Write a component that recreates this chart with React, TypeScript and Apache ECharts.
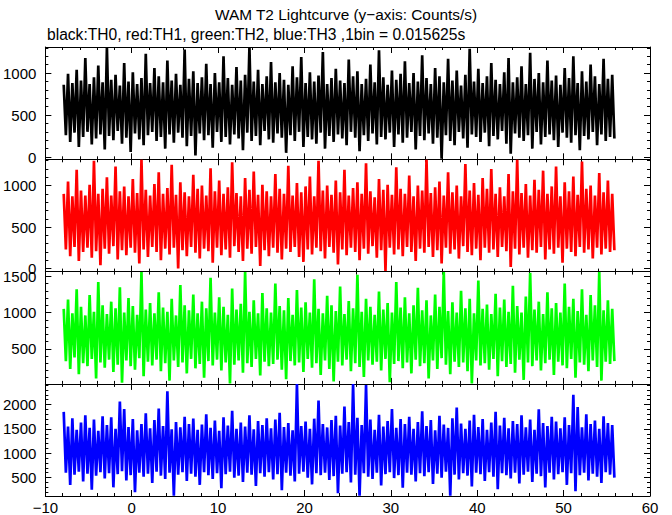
import React, { useEffect, useRef } from "react";
import * as echarts from "echarts";

// Time axis: bins start at -8 s; each listed value covers 0.25 s (alternating high / low excursions)
const T_START = -8;
const T_STEP = 0.25;

const TITLE = "WAM T2 Lightcurve (y\u2212axis: Counts/s)";
const SUBTITLE = "black:TH0, red:TH1, green:TH2, blue:TH3 ,1bin = 0.015625s";

const xTicks = [-10, 0, 10, 20, 30, 40, 50, 60];

const th0High = [
  860, 990, 880, 1040, 910, 1180, 870, 950, 1090, 890, 1300, 920, 980, 850, 1120, 900,
  1010, 870, 940, 1230, 880, 1060, 960, 890, 1150, 910, 990, 860, 1280, 930, 1020, 880,
  950, 1110, 870, 1000, 890, 1200, 940, 860, 1070, 910, 980, 1310, 900, 1040, 870, 960,
  1130, 890, 1000, 920, 860, 1080, 950, 1190, 880, 1010, 900, 970, 1250, 870, 940, 1050,
  910, 880, 1160, 960, 1020, 870, 930, 1100, 890, 1270, 950, 860, 1030, 920, 990, 1140,
  880, 1000, 900, 1210, 940, 870, 1060, 960, 890, 1170, 910, 1030, 850, 980, 1290, 900,
  1050, 880, 960, 1120, 920, 870, 1010, 1180, 890, 950, 1080, 870, 1240, 930, 1000, 890,
  1150, 910, 970, 860, 1060, 940, 1200, 880, 1020, 900, 1100, 960, 870, 1170, 930, 980,
];
const th0Low = [
  260, 180, 290, 120, 240, 300, 150, 220, 270, 90, 250, 200, 310, 160, 230, 60,
  280, 210, 140, 260, 300, 190, 240, 100, 270, 170, 290, 230, 130, 250, 20, 280,
  200, 260, 110, 300, 180, 240, 150, 270, 220, 80, 290, 190, 250, 140, 310, 210,
  170, 280, 230, 50, 260, 190, 300, 120, 240, 210, 160, 290, 100, 250, 180, 270,
  220, 140, 300, 230, 70, 260, 190, 280, 150, 240, 210, 290, 120, 270, 170, 230,
  300, 90, 250, 200, 280, 160, 230, -20, 260, 190, 140, 300, 220, 110, 270, 240,
  180, 290, 130, 250, 210, 310, 160, 40, 280, 230, 190, 260, 100, 300, 150, 240,
  270, 200, 120, 290, 230, 170, 260, 80, 250, 210, 300, 140, 270, 190, 240, 220,
];

const th1High = [
  900, 1050, 870, 1190, 940, 880, 1010, 1300, 900, 960, 1100, 880, 1230, 930, 990, 870,
  1080, 910, 1310, 950, 880, 1020, 1160, 900, 970, 1250, 890, 1040, 920, 870, 1130, 960,
  1000, 880, 1210, 930, 1060, 900, 980, 1280, 910, 870, 1090, 950, 1170, 890, 1010, 930,
  870, 1140, 960, 900, 1240, 880, 1030, 920, 990, 1110, 870, 1300, 940, 1000, 890, 1060,
  920, 1190, 880, 970, 1040, 900, 1270, 930, 860, 1080, 950, 1010, 890, 1220, 960, 900,
  1120, 870, 1000, 940, 1310, 910, 980, 1050, 880, 1160, 920, 1000, 870, 1260, 940, 1030,
  890, 1090, 960, 1200, 900, 980, 870, 1140, 930, 1310, 910, 1020, 880, 1070, 950, 1180,
  900, 990, 1230, 870, 1040, 930, 1110, 890, 1290, 960, 1000, 880, 1150, 920, 1060, 900,
];
const th1Low = [
  230, 150, 260, 90, 200, 250, 130, 210, 40, 240, 180, 270, 110, 220, 160, 250,
  190, 60, 230, 140, 260, 200, 100, 240, 170, 250, 0, 220, 150, 260, 190, 120,
  240, 210, 70, 250, 160, 230, 130, 270, 200, 90, 240, 180, 260, 30, 220, 150,
  250, 190, 110, 240, 200, 260, 140, 80, 230, 170, 250, 210, 120, 260, 190, 50,
  230, 160, 250, 200, 100, 240, 180, 270, 130, 220, -30, 250, 170, 230, 150, 260,
  200, 90, 240, 190, 260, 140, 220, 60, 250, 180, 230, 120, 270, 200, 160, 240,
  100, 250, 190, 230, 140, 260, 210, 20, 240, 170, 250, 130, 220, 190, 260, 110,
  230, 180, 250, 70, 240, 200, 150, 260, 190, 230, 120, 250, 170, 240, 200, 220,
];

const th2High = [
  1050, 1180, 990, 1320, 1080, 960, 1240, 1010, 1420, 1100, 980, 1150, 1060, 1350, 1000, 1200,
  1090, 970, 1560, 1040, 1130, 990, 1280, 1070, 1010, 1190, 960, 1380, 1100, 1030, 1250, 990,
  1150, 1060, 1480, 1000, 1210, 1080, 970, 1330, 1040, 1120, 1560, 1010, 1170, 990, 1270, 1060,
  1000, 1400, 1090, 1030, 1200, 970, 1310, 1070, 1140, 1000, 1460, 1050, 990, 1230, 1100, 1020,
  1360, 980, 1160, 1060, 1520, 1010, 1190, 1080, 970, 1290, 1040, 1130, 1000, 1420, 1070, 1210,
  990, 1100, 1340, 1030, 1170, 960, 1250, 1080, 1560, 1020, 1140, 1000, 1300, 1060, 1190, 990,
  1440, 1050, 1110, 980, 1260, 1070, 1180, 1010, 1370, 1090, 1000, 1220, 1550, 1040, 1150, 980,
  1280, 1060, 1130, 1000, 1400, 1080, 1190, 1020, 1320, 970, 1240, 1100, 1560, 1030, 1170, 1050,
];
const th2Low = [
  330, 220, 380, 150, 300, 260, 360, 90, 310, 240, 350, 180, 280, 30, 340, 260,
  210, 370, 120, 320, 270, 350, 190, 300, 60, 340, 250, 310, 160, 360, 230, 290,
  100, 330, 270, 350, 200, 310, 20, 280, 340, 170, 300, 250, 360, 130, 320, 260,
  290, 350, 210, 80, 330, 270, 310, 180, 360, 240, 300, 140, 340, 220, 50, 320,
  270, 350, 190, 300, 250, 110, 340, 280, 320, 200, 360, 40, 290, 330, 230, 310,
  160, 350, 260, 300, 90, 340, 220, 370, 280, 150, 320, 250, 310, 190, 20, 340,
  270, 300, 210, 360, 120, 330, 250, 290, 170, 350, 70, 310, 260, 340, 200, 300,
  350, 140, 320, 270, 230, 360, 100, 310, 280, 190, 340, 250, 60, 320, 290, 330,
];

const th3High = [
  1850, 1550, 1720, 1480, 1630, 1780, 1520, 1690, 1460, 1760, 1580, 1740, 1500, 2060, 1910, 1540,
  1700, 1470, 1600, 1820, 1510, 1680, 1920, 1560, 2270, 1490, 1640, 1530, 1750, 1600, 1710, 1480,
  1590, 1800, 1520, 1670, 1460, 1740, 1570, 1870, 1500, 1630, 1550, 1780, 1490, 1660, 1580, 1720,
  1510, 1690, 1830, 1540, 1620, 1470, 2420, 1560, 1650, 1500, 1710, 2080, 1600, 1530, 1680, 1770,
  1570, 1960, 1640, 2420, 1730, 1580, 2400, 1690, 1480, 1790, 1550, 1660, 1910, 1520, 1700, 1600,
  1750, 1500, 1640, 1860, 1560, 1680, 1470, 1770, 1590, 1520, 1720, 1940, 1610, 1500, 1670, 1790,
  1540, 1700, 1480, 1630, 1850, 1570, 1730, 1510, 1660, 1600, 1780, 1530, 1690, 1480, 1900, 1620,
  1560, 1750, 1650, 1510, 1740, 1580, 2200, 1950, 1530, 1800, 1600, 1670, 1500, 1760, 1620, 1580,
];
const th3Low = [
  600, 350, 560, 620, 420, 580, 250, 540, 610, 480, 590, 300, 570, 630, 440, 550,
  200, 600, 520, 580, 390, 620, 540, 470, 600, 130, 560, 610, 430, 580, 520, 350,
  610, 550, 470, 590, 280, 570, 620, 500, 540, 410, 600, 560, 330, 590, 520, 610,
  460, 570, 240, 600, 540, 420, 580, 620, 500, 360, 590, 550, 600, 450, 530, 180,
  580, 610, 400, 560, 130, 590, 520, 470, 600, 340, 570, 610, 490, 550, 290, 600,
  560, 420, 590, 530, 610, 370, 580, 500, 620, 130, 560, 460, 590, 540, 320, 600,
  570, 430, 610, 520, 260, 590, 550, 480, 600, 380, 560, 620, 410, 580, 530, 300,
  600, 460, 570, 610, 350, 590, 220, 550, 600, 440, 580, 520, 390, 610, 560, 500,
];

const th0Ticks = [0, 500, 1000];
const th1Ticks = [0, 500, 1000];
const th2Ticks = [500, 1000, 1500];
const th3Ticks = [500, 1000, 1500, 2000];
const th0Range = [-27, 1310];
const th1Range = [-37, 1317];
const th2Range = [15, 1565];
const th3Range = [122, 2424];

const panels = [
  { high: th0High, low: th0Low, ticks: th0Ticks, range: th0Range, color: "#000000" },
  { high: th1High, low: th1Low, ticks: th1Ticks, range: th1Range, color: "#ff0000" },
  { high: th2High, low: th2Low, ticks: th2Ticks, range: th2Range, color: "#00ff00" },
  { high: th3High, low: th3Low, ticks: th3Ticks, range: th3Range, color: "#0000ff" },
];

const FONT = "'Liberation Sans', Arial, Helvetica, sans-serif";

function minorValues(range: number[], major: number[]) {
  const out: number[] = [];
  const start = Math.ceil(range[0] / 100) * 100;
  for (let v = start; v <= range[1]; v += 100) {
    if (!major.includes(v)) out.push(v);
  }
  return out;
}

export default function App() {
  const ref = useRef<HTMLDivElement>(null);
  useEffect(() => {
    if (!ref.current) return;
    const chart = echarts.init(ref.current, null, { renderer: "svg" });
    const LEFT = 45;
    const RIGHT = 22;
    const TOP = 47;
    const H = 112.3;
    const grids: any[] = [];
    const xAxes: any[] = [];
    const yAxes: any[] = [];
    const series: any[] = [];
    const axisLine = { show: true, onZero: false, lineStyle: { color: "#000", width: 1 } };

    panels.forEach((p, k) => {
      grids.push({ left: LEFT, right: RIGHT, top: TOP + k * H, height: H, containLabel: false });
      ["bottom", "top"].forEach((pos) => {
        xAxes.push({
          type: "value",
          gridIndex: k,
          position: pos,
          min: -10,
          max: 60,
          interval: 10,
          axisLine,
          axisTick: { show: true, inside: true, length: 6, lineStyle: { color: "#000" } },
          minorTick: { show: true, splitNumber: 5, length: 3, lineStyle: { color: "#000" } },
          splitLine: { show: false },
          axisLabel: {
            show: pos === "bottom" && k === panels.length - 1,
            color: "#000",
            fontSize: 15,
            fontFamily: FONT,
            margin: 4,
            customValues: xTicks,
            formatter: (v: number) => String(v).replace("-", "\u2212"),
          },
        });
      });
      const minors = minorValues(p.range, p.ticks);
      ["left", "right"].forEach((pos) => {
        yAxes.push({
          type: "value",
          gridIndex: k,
          position: pos,
          min: p.range[0],
          max: p.range[1],
          axisLine,
          axisTick: { show: true, inside: true, length: 6, customValues: p.ticks, lineStyle: { color: "#000" } },
          splitLine: { show: false },
          axisLabel: {
            show: pos === "left",
            customValues: p.ticks,
            color: "#000",
            fontSize: 15,
            fontFamily: FONT,
            margin: 9,
            formatter: (v: number) => String(v),
          },
        });
        yAxes.push({
          type: "value",
          gridIndex: k,
          position: pos,
          min: p.range[0],
          max: p.range[1],
          axisLine: { show: false, onZero: false },
          axisTick: { show: true, inside: true, length: 3, customValues: minors, lineStyle: { color: "#000" } },
          splitLine: { show: false },
          axisLabel: { show: false },
        });
      });
      const data: number[][] = [];
      for (let i = 0; i < p.high.length; i++) {
        data.push([T_START + (2 * i + 0.5) * T_STEP, p.high[i]]);
        data.push([T_START + (2 * i + 1.5) * T_STEP, p.low[i]]);
      }
      series.push({
        type: "line",
        xAxisIndex: 2 * k,
        yAxisIndex: 4 * k,
        data,
        showSymbol: false,
        symbol: "none",
        lineStyle: { color: p.color, width: 2.7, join: "bevel" },
        silent: true,
        z: 1,
      });
    });

    chart.setOption({
      animation: false,
      backgroundColor: "#ffffff",
      grid: grids,
      xAxis: xAxes,
      yAxis: yAxes,
      series,
      graphic: [
        {
          type: "text",
          x: 346,
          y: 14,
          style: {
            text: TITLE,
            fill: "#000",
            font: `15.4px ${FONT}`,
            textAlign: "center",
            textVerticalAlign: "middle",
          },
        },
        {
          type: "text",
          x: 47,
          y: 34,
          style: {
            text: SUBTITLE,
            fill: "#000",
            font: `15.6px ${FONT}`,
            textAlign: "left",
            textVerticalAlign: "middle",
          },
        },
      ],
    });
    return () => chart.dispose();
  }, []);
  return (
    <div
      ref={ref}
      style={{ position: "fixed", left: 0, top: 0, width: 672, height: 515, background: "#fff" }}
    />
  );
}
